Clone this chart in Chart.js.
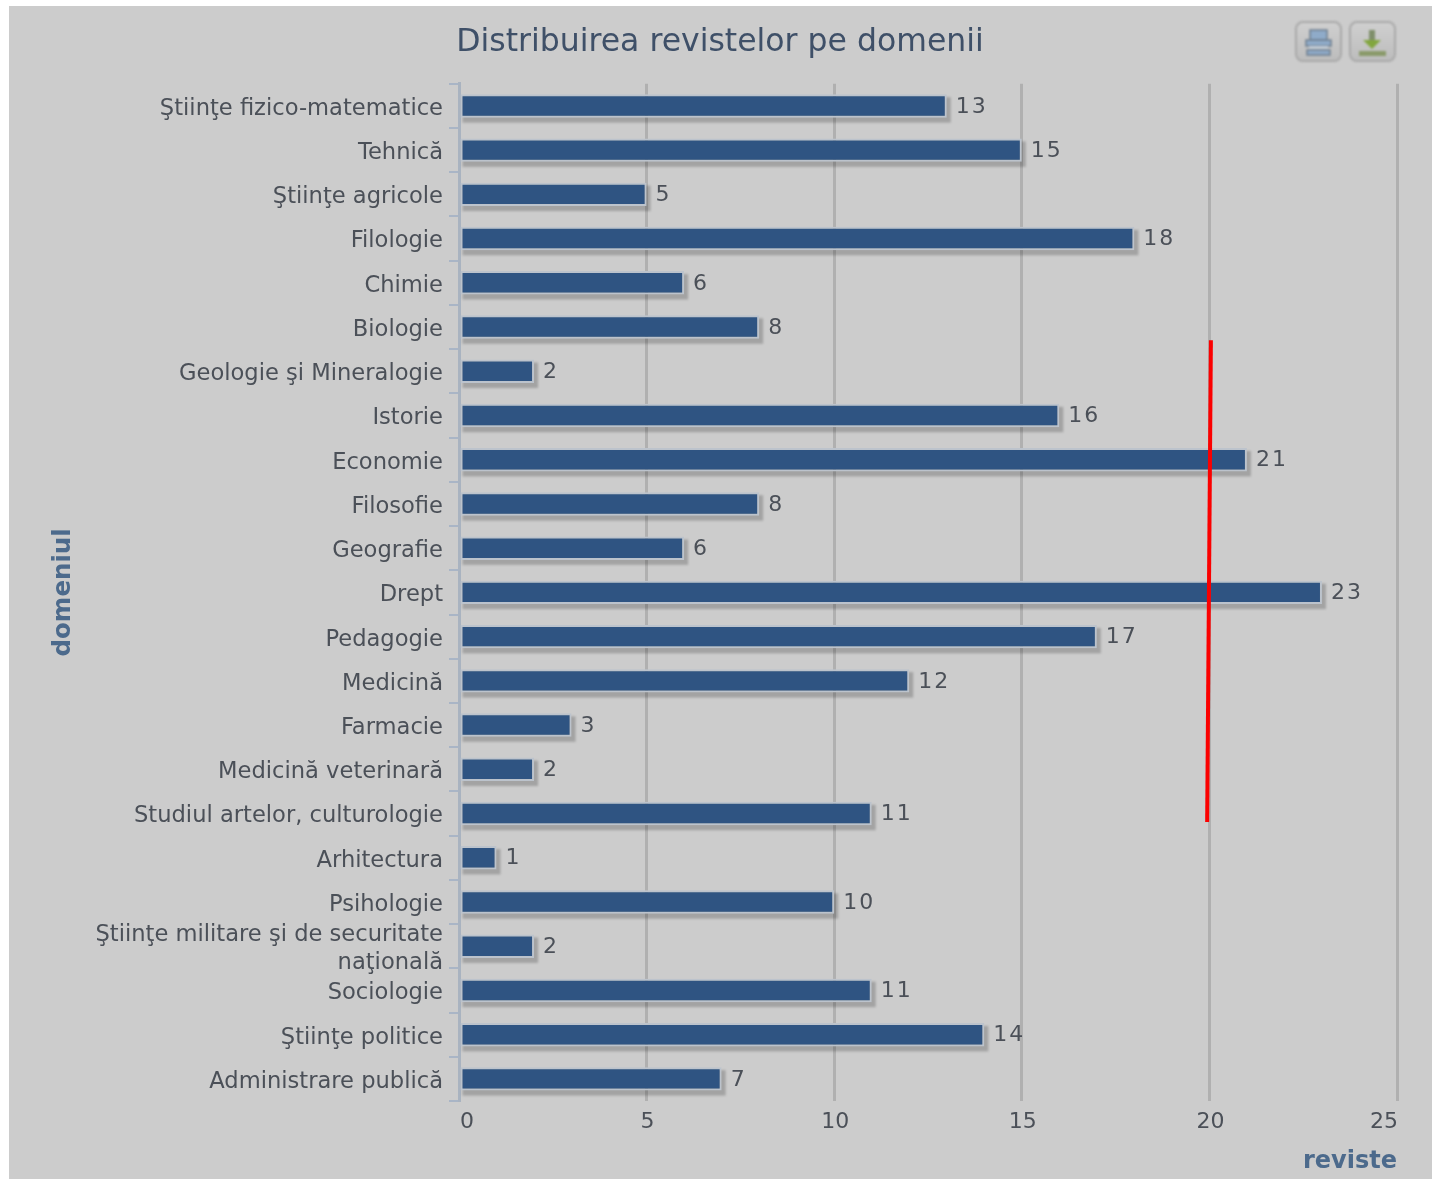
<!DOCTYPE html>
<html>
<head>
<meta charset="utf-8">
<title>Distribuirea revistelor pe domenii</title>
<script src="https://cdn.jsdelivr.net/npm/chart.js@4"></script>
<style>
    html, body { margin: 0; padding: 0; background: #fff; overflow: hidden; }
    #panel { position: absolute; left: 9px; top: 6px; width: 1423px; height: 1173px; background: #cccccc; }
    #chart-wrap { position: absolute; left: 0; top: 0; width: 1423px; height: 1173px; filter: blur(0.55px); }
    .btn {
        position: absolute; top: 15px; width: 47px; height: 41px; box-sizing: border-box;
        border: 2px solid #a9a9a9; border-radius: 8px;
        background: linear-gradient(#cfcfcf, #bdbdbd); filter: blur(0.8px);
    }
    .btn svg { position: absolute; left: 1px; top: 2px; }
</style>
</head>
<body>
<div id="panel">
    <div id="chart-wrap"><canvas id="chart" width="1423" height="1173"></canvas></div>
    <div class="btn" style="left:1286px">
        <svg width="40" height="34">
            <rect x="12" y="5" width="17" height="10" fill="#8fabc9" stroke="#6f7f8f" stroke-width="1.5"/>
            <rect x="8" y="15" width="25" height="6" fill="#8fabc9" stroke="#6f7f8f" stroke-width="1.5"/>
            <rect x="11" y="21" width="19" height="3" fill="#c4cdd6"/>
            <rect x="9" y="25" width="23" height="5" fill="#8fabc9" stroke="#6f7f8f" stroke-width="1.5"/>
        </svg>
    </div>
    <div class="btn" style="left:1340px">
        <svg width="40" height="34">
            <rect x="17" y="5" width="6" height="10" fill="#7f8f6a"/>
            <polygon points="11,15 29,15 20,24" fill="#82a63e"/>
            <rect x="7" y="26" width="27" height="5" fill="#8a9a6a"/>
        </svg>
    </div>
</div>
<script>
const CATEGORIES = [
    'Ştiinţe fizico-matematice', 'Tehnică', 'Ştiinţe agricole', 'Filologie', 'Chimie', 'Biologie',
    'Geologie şi Mineralogie', 'Istorie', 'Economie', 'Filosofie', 'Geografie', 'Drept', 'Pedagogie',
    'Medicină', 'Farmacie', 'Medicină veterinară', 'Studiul artelor, culturologie', 'Arhitectura',
    'Psihologie', ['Ştiinţe militare şi de securitate', 'naţională'], 'Sociologie', 'Ştiinţe politice',
    'Administrare publică'
];
const REVISTE = [13, 15, 5, 18, 6, 8, 2, 16, 21, 8, 6, 23, 17, 12, 3, 2, 11, 1, 10, 2, 11, 14, 7];
const X_TICKS = [0, 5, 10, 15, 20, 25];
// hand-drawn red line over the chart, in axis units
const RED_LINE_X = [20.04, 19.94];
const RED_LINE_Y = [5.3, 16.19];

const FONT = '"DejaVu Sans", sans-serif';
const TEXT = '#4b5058';
const BLUE = '#4c6a8c';

// soft shadow under the bars, painted before the bars so it stays off their border
const barShadow = {
    id: 'barShadow',
    beforeDatasetDraw(chart, args) {
        if (args.index !== 0) return;
        const ctx = chart.ctx;
        ctx.save();
        ctx.filter = 'blur(1.2px)';
        ctx.fillStyle = 'rgba(0,0,0,0.2)';
        chart.getDatasetMeta(0).data.forEach(bar => {
            ctx.fillRect(bar.base + 2, bar.y - bar.height / 2 + 3, bar.x - bar.base + 2, bar.height + 2);
        });
        ctx.restore();
    }
};

const barValues = {
    id: 'barValues',
    afterDatasetsDraw(chart) {
        const ctx = chart.ctx;
        ctx.save();
        ctx.font = '22px ' + FONT;
        ctx.fillStyle = TEXT;
        ctx.textAlign = 'left';
        ctx.textBaseline = 'middle';
        ctx.letterSpacing = '2px';
        chart.getDatasetMeta(0).data.forEach((bar, i) => {
            ctx.fillText(String(REVISTE[i]), bar.x + 9, bar.y + 1);
        });
        ctx.restore();
    }
};

new Chart(document.getElementById('chart'), {
    type: 'bar',
    data: {
        labels: CATEGORIES,
        datasets: [
            {
                data: REVISTE,
                backgroundColor: '#2f5482',
                borderColor: '#bcc3cc',
                borderWidth: 2,
                borderSkipped: false,
                grouped: false,
                categoryPercentage: 1,
                barPercentage: 0.53,
                xAxisID: 'x',
                yAxisID: 'y',
                order: 2,
            },
            {
                type: 'scatter',
                data: RED_LINE_X.map((x, i) => ({ x: x, y: RED_LINE_Y[i] })),
                showLine: true,
                borderColor: '#fb0000',
                borderWidth: 4,
                pointRadius: 0,
                xAxisID: 'x',
                yAxisID: 'yLine',
                order: 1,
            }
        ]
    },
    options: {
        indexAxis: 'y',
        responsive: false,
        animation: false,
        layout: { padding: { left: 34, right: 35, top: 0, bottom: 0 } },
        plugins: {
            legend: { display: false },
            tooltip: { enabled: false },
            title: {
                display: true,
                text: 'Distribuirea revistelor pe domenii',
                color: '#3f5068',
                font: { family: FONT, size: 31.5, weight: 'normal' },
                padding: { top: 18, bottom: 22 },
            }
        },
        scales: {
            x: {
                type: 'linear',
                min: 0,
                max: 25,
                afterBuildTicks: axis => { axis.ticks = X_TICKS.map(v => ({ value: v })); },
                afterFit: axis => { axis.height = 78; },
                ticks: { color: TEXT, font: { family: FONT, size: 22 }, padding: 8, align: 'inner', labelOffset: 1, maxRotation: 0 },
                grid: { color: '#b0b0b0', lineWidth: 3, drawTicks: false },
                border: { display: false },
                title: {
                    display: true,
                    text: 'reviste',
                    align: 'end',
                    color: BLUE,
                    font: { family: FONT, size: 24, weight: 'bold' },
                    padding: { top: 0, bottom: 3 },
                }
            },
            y: {
                type: 'category',
                afterFit: axis => { axis.width = 416; },
                ticks: { color: TEXT, font: { family: FONT, size: 22.6, lineHeight: 1.24 }, padding: 6, labelOffset: 3, autoSkip: false },
                grid: { offset: true, drawOnChartArea: false, color: '#a9b5c6', lineWidth: 2, tickLength: 10 },
                border: { display: true, color: '#a9b3c0', width: 3 },
                title: {
                    display: true,
                    text: 'domeniul',
                    color: BLUE,
                    font: { family: FONT, size: 24.5, weight: 'bold' },
                    padding: { top: 6, bottom: 0 },
                }
            },
            yLine: {
                type: 'linear',
                display: false,
                reverse: true,
                offset: false,
                min: -0.5,
                max: 22.5,
            }
        }
    },
    plugins: [barShadow, barValues]
});
</script>
</body>
</html>
